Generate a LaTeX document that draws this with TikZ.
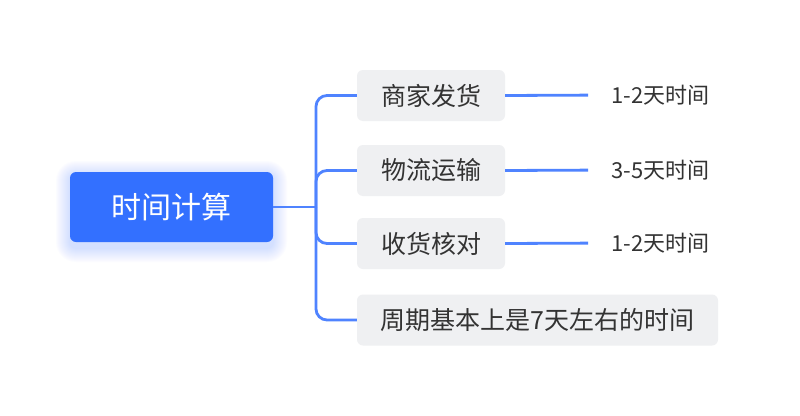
\documentclass[tikz,border=0pt]{standalone}
\usepackage{fontspec}
\setmainfont{Noto Sans CJK SC}
\definecolor{rootblue}{HTML}{3370FF}
\definecolor{glow}{HTML}{7FA3FF}
\definecolor{linkblue}{HTML}{4F83FF}
\definecolor{boxgray}{HTML}{EFF0F2}
\definecolor{txt}{HTML}{333333}
\tikzset{
  rootbox/.style={fill=rootblue, rounded corners=6pt, minimum width=203pt, minimum height=70pt,
    text=white, font=\fontsize{30}{34}\selectfont, inner sep=0pt},
  childbox/.style={fill=boxgray, rounded corners=6pt, minimum height=51pt, text=txt,
    font=\fontsize{25}{29}\selectfont, inner sep=0pt},
  leaf/.style={text=txt, font=\fontsize{22}{26}\selectfont, inner sep=0pt, anchor=west},
  link/.style={draw=linkblue, line width=2.8pt},
  glowlayer/.style={fill=glow, fill opacity=0.022, rounded corners=#1},
}
\begin{document}
\begin{tikzpicture}[x=1pt, y=-1pt]
\useasboundingbox[fill=white] (0,0) rectangle (800,415);
\foreach \r in {1,2,...,14}{
  \fill[glowlayer=6pt+\r pt] (70-\r,175-\r) rectangle (273+\r,248+\r);
}
\node[rootbox] (root) at (171.5,207) {时间计算};
\node[childbox, minimum width=148pt] (c1) at (431,95.5) {商家发货};
\node[childbox, minimum width=148pt] (c2) at (431,170.5) {物流运输};
\node[childbox, minimum width=148pt] (c3) at (431,243.5) {收货核对};
\node[childbox, minimum width=361pt] (c4) at (537.5,320) {周期基本上是7天左右的时间};
\node[leaf] (l1) at (611,95) {1-2天时间};
\node[leaf] (l2) at (611,170) {3-5天时间};
\node[leaf] (l3) at (611,243) {1-2天时间};
\coordinate (j) at (316,207);
\draw[link] (root.east) -- (j);
\foreach \c in {c1,c2,c3,c4}{
  \draw[link, rounded corners=11pt] (j) |- (\c.west);
}
\draw[link, shorten >=23pt] (c1.east) -- (l1.west);
\draw[link, shorten >=23pt] (c2.east) -- (l2.west);
\draw[link, shorten >=23pt] (c3.east) -- (l3.west);
\end{tikzpicture}
\end{document}
